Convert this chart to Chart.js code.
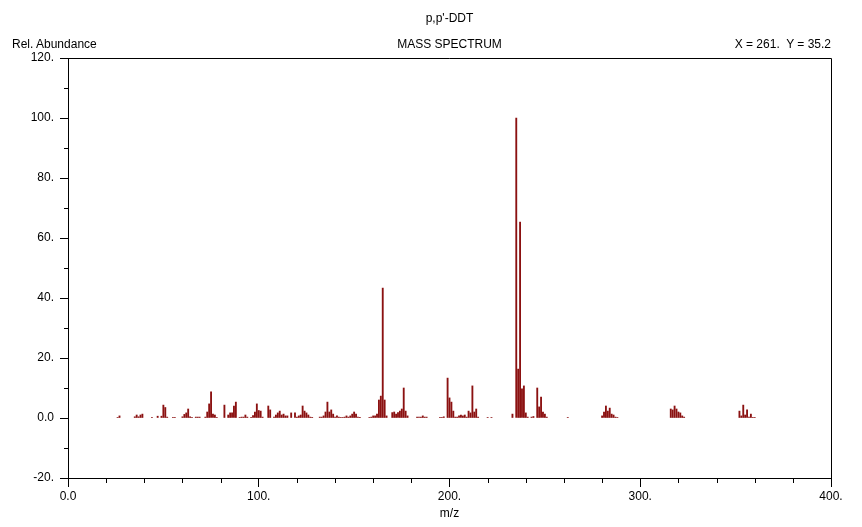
<!DOCTYPE html>
<html>
<head>
<meta charset="utf-8">
<script src="https://cdn.jsdelivr.net/npm/chart.js@4.4.0/dist/chart.umd.min.js"></script>
<style>
  body { margin: 0; background: #fff; }
  #wrap { position: relative; width: 862px; height: 527px; font-family: "Liberation Sans", Arial, sans-serif; font-size: 12px; color: #000; }
  #wrap canvas { position: absolute; left: 0; top: 0; }
  .lbl { position: absolute; line-height: 14px; white-space: pre; }
</style>
</head>
<body>
<div id="wrap">
  <canvas id="chart" width="862" height="527"></canvas>
  <div class="lbl" style="left:0;width:899px;top:11px;text-align:center">p,p'-DDT</div>
  <div class="lbl" style="left:12px;top:37px">Rel. Abundance</div>
  <div class="lbl" style="left:0;width:899px;top:37px;text-align:center">MASS SPECTRUM</div>
  <div class="lbl" style="right:31px;top:37px">X = 261.  Y = 35.2</div>
  <div class="lbl" style="left:0;width:899px;top:506px;text-align:center">m/z</div>
</div>
<script>
// m/z and relative abundance
const mz = [26, 27, 35, 36, 37, 38, 39, 44, 47, 49, 50, 51, 52, 55, 56,
  60, 61, 62, 63, 64, 65, 67, 68, 69, 72, 73, 74, 75, 76, 77, 78,
  82, 84, 85, 86, 87, 88, 90, 91, 92, 93, 94, 96, 97, 98, 99, 100, 101, 102,
  105, 106, 108, 109, 110, 111, 112, 113, 114, 115, 117, 119, 120, 121, 122, 123, 124, 125, 126, 127, 128,
  132, 133, 134, 135, 136, 137, 138, 139, 140, 141, 142, 143, 144, 145, 146, 147, 148, 149, 150, 151, 152, 153,
  158, 159, 160, 161, 162, 163, 164, 165, 166, 167,
  170, 171, 172, 173, 174, 175, 176, 177, 178,
  183, 184, 185, 186, 187, 188, 195, 196, 197,
  199, 200, 201, 202, 203, 204, 205, 206, 207, 208, 209, 210, 211, 212, 213, 214, 215,
  220, 222, 233, 235, 236, 237, 238, 239, 240, 241, 243, 244,
  246, 247, 248, 249, 250, 251, 262,
  280, 281, 282, 283, 284, 285, 286, 287, 288,
  316, 317, 318, 319, 320, 321, 322, 323,
  352, 353, 354, 355, 356, 357, 358, 359, 360];
const abundance = [0.2, 0.7, 0.4, 1.0, 0.4, 1.0, 1.3, 0.2, 0.6, 0.6, 4.3, 3.5, 0.3, 0.2, 0.2,
  0.4, 1.2, 1.7, 3.0, 0.4, 0.2, 0.3, 0.3, 0.3, 0.3, 2.0, 4.7, 8.7, 1.3, 1.0, 0.2,
  4.3, 1.0, 1.7, 1.7, 4.0, 5.3, 0.2, 0.3, 0.3, 1.0, 0.3, 0.2, 0.8, 2.0, 4.7, 2.5, 2.3, 0.3,
  4.0, 2.7, 0.3, 1.0, 1.7, 2.3, 1.0, 1.3, 0.7, 0.7, 1.7, 1.7, 0.3, 0.7, 1.0, 4.0, 2.3, 1.7, 1.0, 0.3, 0.1,
  0.3, 0.3, 0.7, 2.0, 5.3, 2.0, 2.7, 1.3, 0.3, 0.7, 0.3, 0.2, 0.2, 0.3, 0.7, 0.3, 0.7, 1.3, 2.0, 1.3, 0.3, 0.1,
  0.2, 0.3, 0.7, 0.7, 1.3, 6.0, 7.3, 43.3, 6.0, 0.7,
  1.8, 2.0, 1.3, 1.8, 2.3, 3.0, 10.0, 2.3, 0.7,
  0.3, 0.3, 0.3, 0.7, 0.3, 0.3, 0.2, 0.2, 0.4,
  13.3, 6.7, 5.3, 2.3, 0.3, 0.3, 0.7, 1.0, 0.7, 1.0, 0.3, 2.3, 1.7, 10.7, 2.0, 3.0, 0.3,
  0.2, 0.2, 1.3, 100, 16.3, 65.3, 9.7, 10.7, 1.7, 0.3, 0.3, 0.5,
  10.0, 3.7, 7.0, 2.0, 1.3, 0.3, 0.2,
  0.7, 2.0, 4.0, 2.3, 3.3, 1.3, 1.0, 0.3, 0.2,
  3.0, 2.7, 4.0, 3.0, 2.0, 1.7, 0.7, 0.3,
  2.3, 0.7, 4.3, 1.0, 2.7, 0.3, 1.3, 0.2, 0.2];

function fmt(v) {
  return v === 0 ? '0.0' : v + '.';
}

// minor ticks are shorter than the major ones, and the box is closed at top/right
const frame = {
  id: 'frame',
  afterDraw(chart) {
    const ctx = chart.ctx;
    const a = chart.chartArea;
    const xs = chart.scales.x, ys = chart.scales.y;
    ctx.save();
    ctx.strokeStyle = '#000';
    ctx.lineWidth = 1;
    ctx.beginPath();
    ctx.moveTo(a.left, a.top + 0.5);
    ctx.lineTo(a.right + 0.5, a.top + 0.5);
    ctx.lineTo(a.right + 0.5, a.bottom);
    for (let v = -10; v < 120; v += 20) {
      const y = Math.round(ys.getPixelForValue(v)) + 0.5;
      ctx.moveTo(a.left - 4, y);
      ctx.lineTo(a.left, y);
    }
    for (let v = 20; v < 400; v += 20) {
      if (v % 100 === 0) continue;
      const x = Math.round(xs.getPixelForValue(v)) + 0.5;
      ctx.moveTo(x, a.bottom);
      ctx.lineTo(x, a.bottom + 5);
    }
    ctx.stroke();
    ctx.restore();
  }
};

new Chart(document.getElementById('chart'), {
  type: 'bar',
  data: {
    datasets: [{
      data: mz.map((m, i) => ({ x: m, y: abundance[i] })),
      backgroundColor: '#8b1111',
      barThickness: 1.2,
      borderWidth: 0
    }]
  },
  options: {
    responsive: false,
    devicePixelRatio: 1,
    animation: false,
    layout: { padding: { top: 58, right: 31, left: 0, bottom: 0 } },
    plugins: { legend: { display: false }, tooltip: { enabled: false } },
    scales: {
      x: {
        type: 'linear',
        offset: false,
        min: 0,
        max: 400,
        afterFit(s) { s.height = 49; },
        border: { display: true, color: '#000', width: 1 },
        grid: {
          offset: false,
          drawOnChartArea: false,
          tickLength: 9,
          tickColor: c => (c.tick && c.tick.value % 100 === 0) ? '#000' : 'rgba(0,0,0,0)'
        },
        ticks: {
          stepSize: 20,
          autoSkip: false,
          maxRotation: 0,
          padding: 2,
          color: '#000',
          font: { family: '"Liberation Sans", Arial, sans-serif', size: 12 },
          callback: v => v % 100 === 0 ? fmt(v) : ''
        }
      },
      y: {
        min: -20,
        max: 120,
        afterFit(s) { s.width = 68; },
        border: { display: true, color: '#000', width: 1 },
        grid: {
          drawOnChartArea: false,
          tickLength: 8,
          tickColor: c => (c.tick && c.tick.value % 20 === 0) ? '#000' : 'rgba(0,0,0,0)'
        },
        ticks: {
          stepSize: 10,
          autoSkip: false,
          padding: 6,
          color: '#000',
          font: { family: '"Liberation Sans", Arial, sans-serif', size: 12 },
          callback: v => v % 20 === 0 ? fmt(v) : ''
        }
      }
    }
  },
  plugins: [frame]
});
</script>
</body>
</html>
